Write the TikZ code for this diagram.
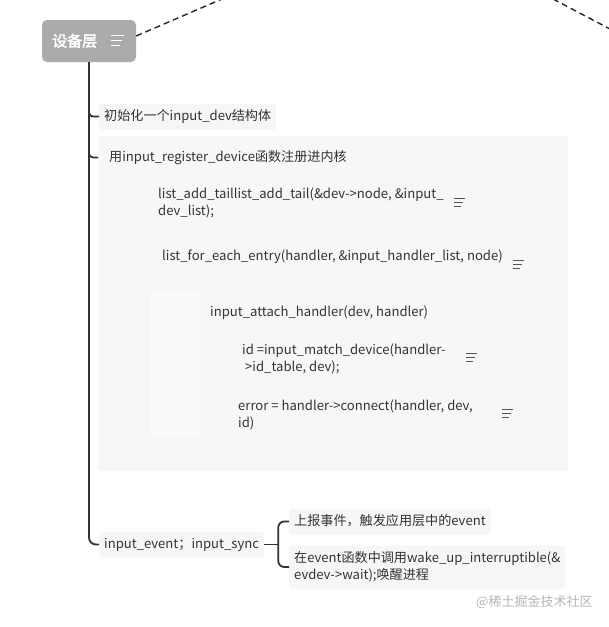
\documentclass[tikz,border=0pt]{standalone}
\usepackage{fontspec}
\setmainfont{Noto Sans CJK SC}
\newfontfamily\rootfont[FakeBold=2.5]{Noto Sans CJK SC}
\usetikzlibrary{calc}
\definecolor{txt}{HTML}{333333}
\definecolor{rootfill}{HTML}{ABABAB}
\definecolor{boxfill}{HTML}{F7F7F7}
\definecolor{nodefill}{HTML}{F6F6F6}
\definecolor{innerfill}{HTML}{FAFAFA}
\definecolor{iconcol}{HTML}{555555}
\definecolor{wmark}{HTML}{B5B5B5}
\tikzset{
  topic/.style={anchor=base west, inner xsep=5pt, inner ysep=6.5pt, text height=10pt, text depth=3pt,
    font=\fontsize{13.1}{17}\selectfont, text=txt, align=left},
  twoline/.style={text height=27pt},
  filled/.style={topic, fill=nodefill, rounded corners=3pt},
  trunk/.style={draw=txt, line width=1.8pt},
  dashedlink/.style={draw=black!85, line width=1.4pt, dash pattern=on 6pt off 4pt},
  pics/noteicon/.style={code={
    \draw[line width=1pt,#1] (0,-4) -- (11,-4) (0,0) -- (9,0) (0,4) -- (7,4);}},
  pics/rooticon/.style={code={
    \draw[line width=1.6pt,white] (0,-5) -- (13,-5) (0,0) -- (11,0) (0,5) -- (9,5);}}
}
\begin{document}
\begin{tikzpicture}[x=1pt,y=-1pt]
\useasboundingbox (0,0) rectangle (609,627);
% dashed links leaving the picture
\coordinate (dashA) at (222,-1);
\coordinate (dashB) at (553,-1);
\coordinate (dashC) at (610,29);
% big group box of the register-device topic
\fill[boxfill, rounded corners=2pt] (98,136) rectangle (568,471);
\fill[innerfill] (150,292) rectangle (200,438);
% root
\node[fill=rootfill, rounded corners=5pt, minimum width=94pt, minimum height=42pt, inner sep=0pt] (root) at (89,41) {};
\node[anchor=base west, inner sep=0pt, text=white, font=\rootfont\fontsize{15}{18}\selectfont] (roottxt) at (52,46.5) {设备层};
\pic at (111,40.5) {rooticon};
\draw[dashedlink] ([yshift=5pt]root.east) -- (dashA);
\draw[dashedlink] (dashB) -- (dashC);
% topics
\node[filled] (init) at (99,120) {初始化一个input\_dev结构体};
\node[topic, inner xsep=11pt] (reg) at (98,161) {用input\_register\_device函数注册进内核};
\node[topic, twoline] (listadd) at (153,215) {list\_add\_taillist\_add\_tail(\&dev->node, \&input\_\\dev\_list);};
\pic at (454,202) {noteicon=iconcol};
\node[topic] (listfor) at (157,260) {list\_for\_each\_entry(handler, \&input\_handler\_list, node)};
\pic at (513,264) {noteicon=iconcol};
\node[topic] (attach) at (205,316) {input\_attach\_handler(dev, handler)};
\node[topic, twoline] (match) at (237,371) {id =input\_match\_device(handler-\\\hspace*{3pt}>id\_table, dev);};
\pic at (466,357) {noteicon=iconcol};
\node[topic, twoline] (conn) at (233,427) {error = handler->connect(handler, dev,\\id)};
\pic at (502,413) {noteicon=iconcol};
\node[filled] (ev) at (99,548) {input\_event；input\_sync};
\node[filled] (up) at (289,525) {上报事件，触发应用层中的event};
\node[filled, twoline] (down) at (289,579) {在event函数中调用wake\_up\_interruptible(\&\\evdev->wait);唤醒进程};
% connectors
\draw[trunk, rounded corners=7pt] (root.south) |- (ev.west);
\draw[trunk, rounded corners=4pt] ($(init.west -| root.south)+(0,-6)$) |- (init.west);
\draw[trunk, rounded corners=4pt] ($(reg.west -| root.south)+(0,-6)$) |- (reg.west);
\coordinate (br) at ($(ev.east)+(14,0)$);
\draw[trunk] (ev.east) -- (br);
\draw[trunk, rounded corners=6pt] (up.west) -| (br) |- (down.west);
% watermark
\node[anchor=base west, inner sep=0pt, text=wmark, font=\fontsize{13}{15}\selectfont] (wm) at (476,606.5) {@稀土掘金技术社区};
\end{tikzpicture}
\end{document}
